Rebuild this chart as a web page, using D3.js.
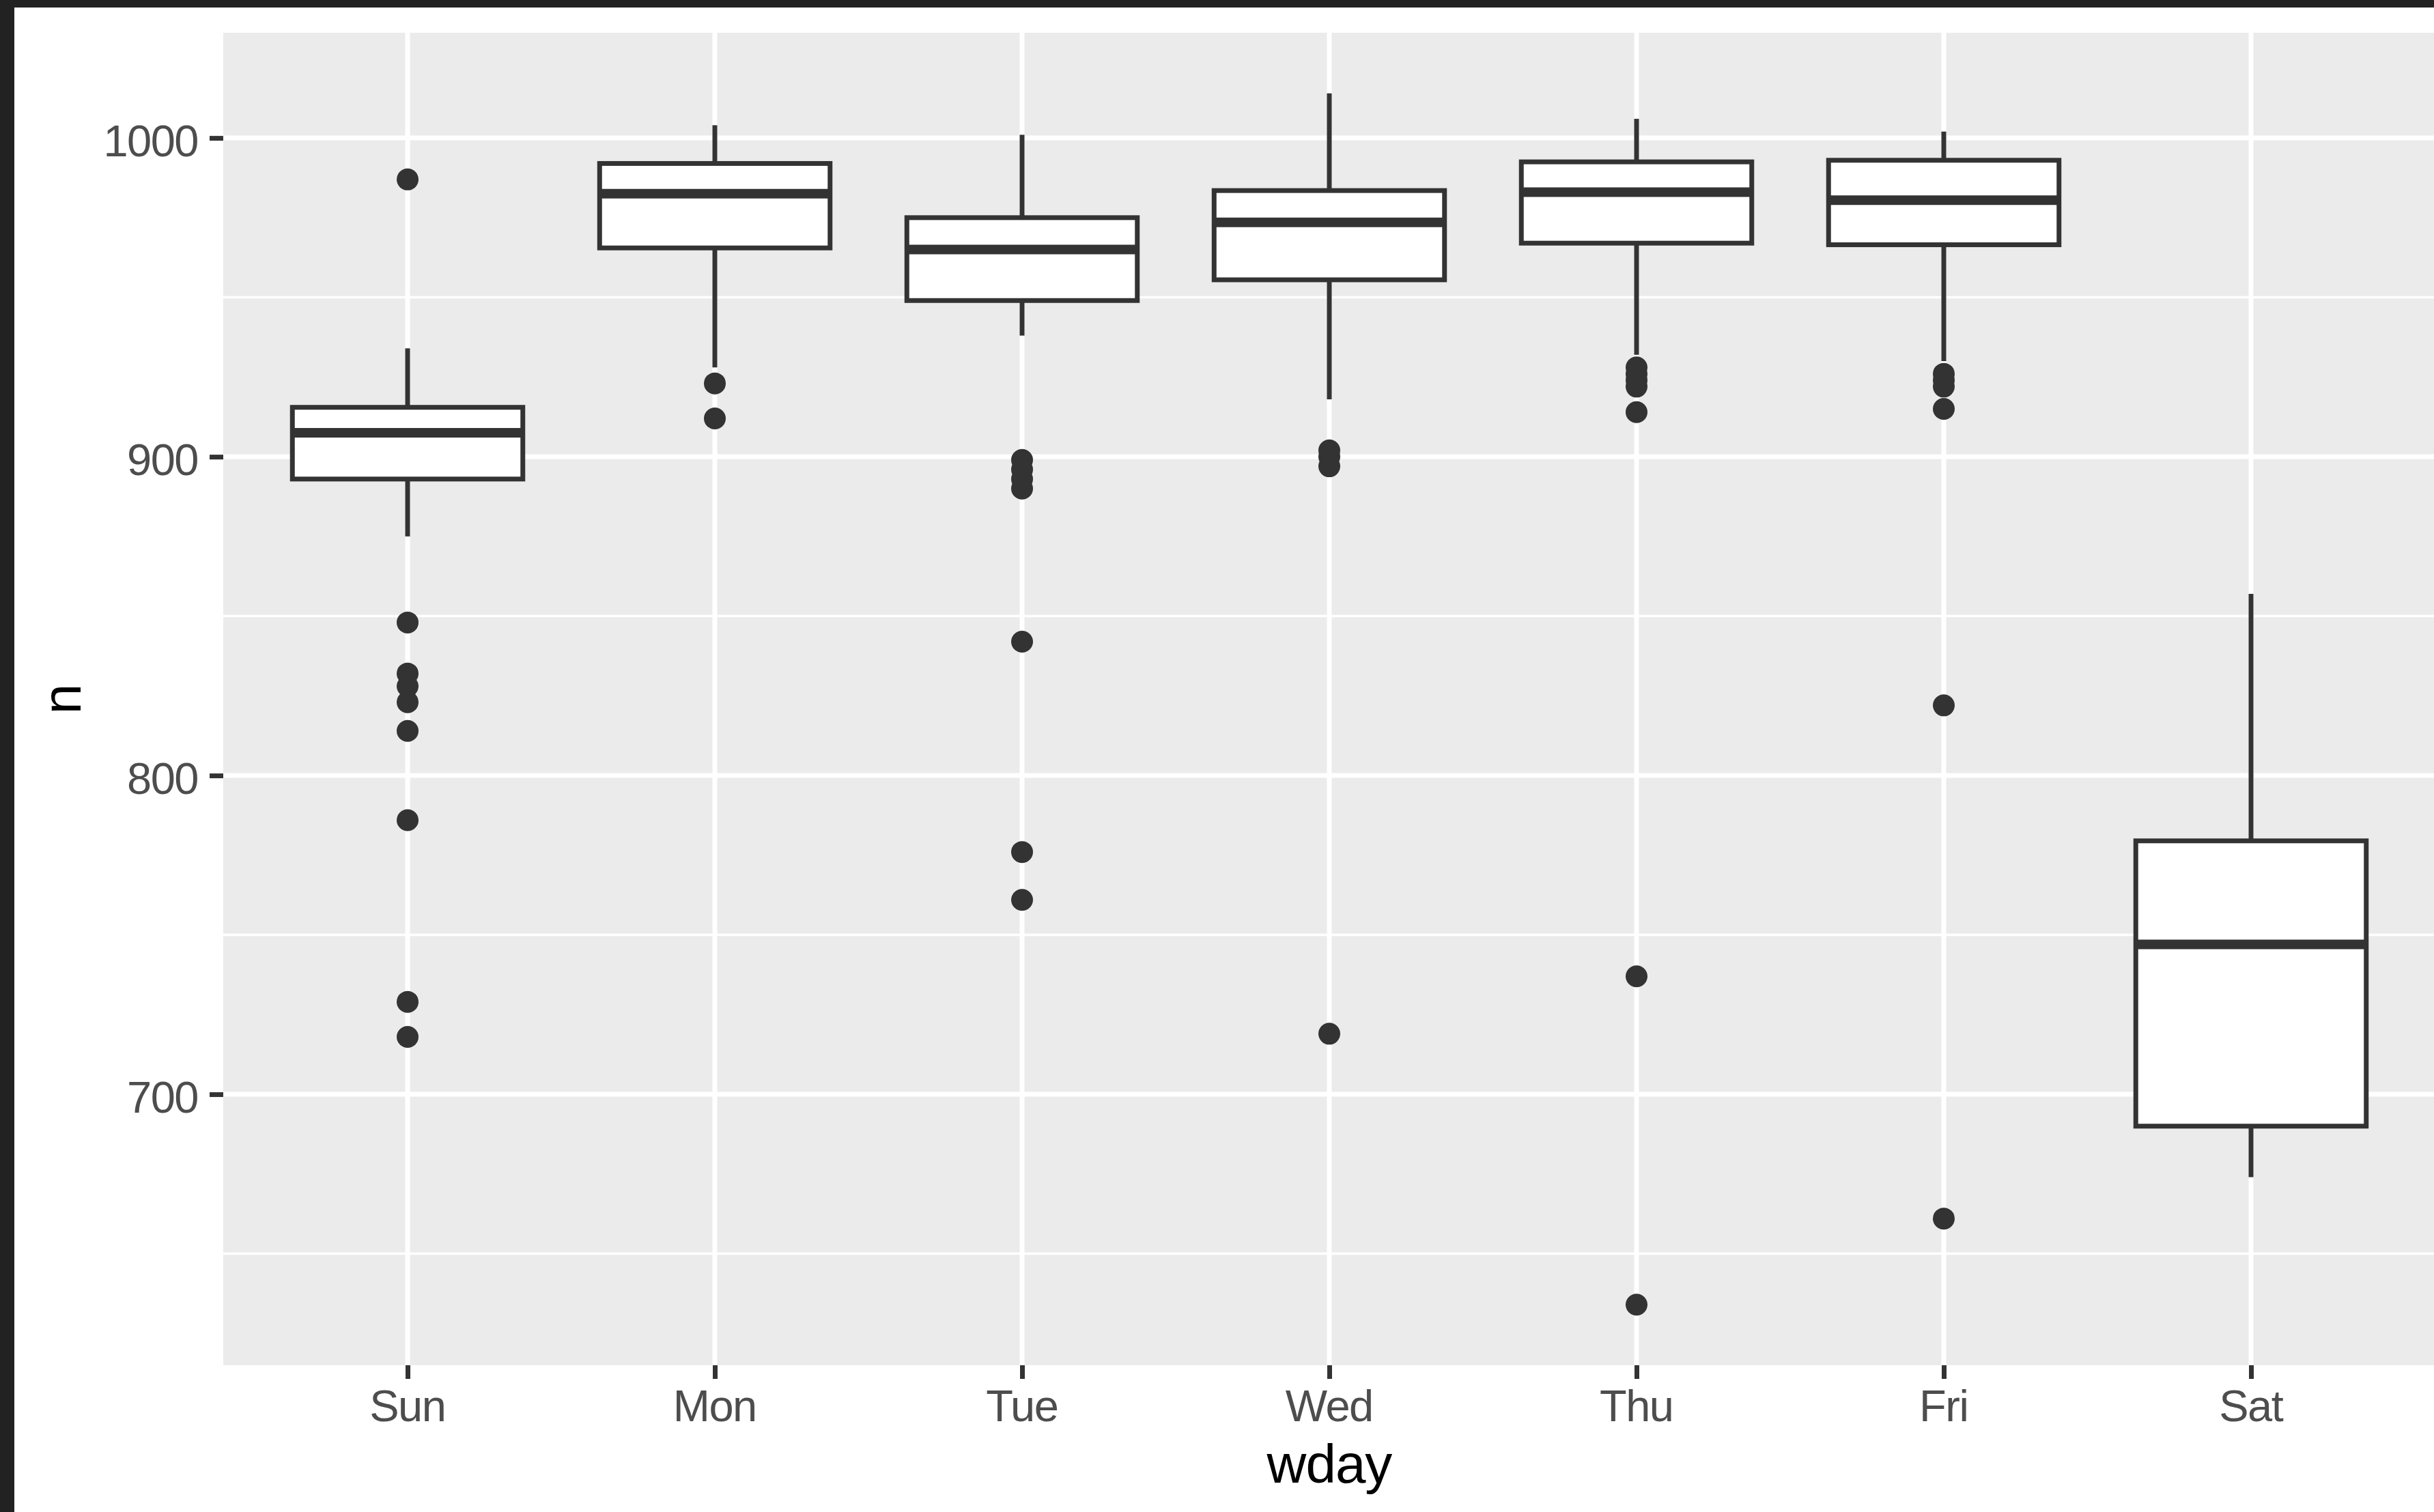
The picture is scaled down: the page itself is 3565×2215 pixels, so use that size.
<!DOCTYPE html>
<html>
<head>
<meta charset="utf-8">
<script src="https://cdn.jsdelivr.net/npm/d3@7"></script>
<style>
  html, body { margin: 0; padding: 0; background: #222222; }
  svg { display: block; }
  text { font-family: "Liberation Sans", Arial, Helvetica, sans-serif; }
</style>
</head>
<body>
<svg id="chart"></svg>
<script>
// Daily counts by weekday: box-plot summaries and outliers
const days = ["Sun", "Mon", "Tue", "Wed", "Thu", "Fri", "Sat"];
const whiskerLow  = [875,   928,   938, 918,   932,   930,   674];
const q1          = [893,   965.5, 949, 955.5, 967,   966.5, 690];
const median      = [907.5, 982.5, 965, 973.5, 983,   980.5, 747];
const q3          = [915.5, 992,   975, 983.5, 992.5, 993,   779.5];
const whiskerHigh = [934,   1004,  1001, 1014, 1006,  1002,  857];
const outliers = [
  [987, 848, 832, 828, 823, 814, 786, 729, 718],
  [923, 912],
  [899, 896, 893, 890, 842, 776, 761],
  [902, 900, 897, 719],
  [928, 926, 924, 922, 914, 737, 634],
  [926, 924, 922, 915, 822, 661],
  []
];
const yMajorTicks = [700, 800, 900, 1000];
const yMinorTicks = [650, 750, 850, 950];
const xTitle = "wday";
const yTitle = "n";

const W = 3565, H = 2215;
const panel = { left: 327, top: 48, right: 3567, bottom: 2000 };
const ink = "#333333";
const lineW = 7;

const svg = d3.select("#chart").attr("width", W).attr("height", H);

// window frame and white plot background
svg.append("rect").attr("x", 0).attr("y", 0).attr("width", W).attr("height", H).attr("fill", "#222222");
svg.append("rect").attr("x", 21).attr("y", 11).attr("width", W - 21).attr("height", H - 11).attr("fill", "#ffffff");

// scales: 5% expansion on the continuous axis, 0.6 unit padding on the discrete one
const allVals = [].concat(whiskerLow, whiskerHigh, ...outliers);
const [lo, hi] = d3.extent(allVals);
const span = hi - lo;
const y = d3.scaleLinear().domain([lo - 0.05 * span, hi + 0.05 * span]).range([panel.bottom, panel.top]);
const x = d3.scalePoint().domain(days).range([panel.left, panel.right]).padding(0.6);
const boxW = x.step() * 0.75;

// panel
svg.append("rect")
  .attr("x", panel.left).attr("y", panel.top)
  .attr("width", panel.right - panel.left).attr("height", panel.bottom - panel.top)
  .attr("fill", "#EBEBEB");

const grid = svg.append("g");
grid.selectAll("line.minor").data(yMinorTicks).join("line")
  .attr("class", "minor")
  .attr("x1", panel.left).attr("x2", panel.right)
  .attr("y1", d => y(d)).attr("y2", d => y(d))
  .attr("stroke", "#ffffff").attr("stroke-width", lineW / 2);
grid.selectAll("line.majory").data(yMajorTicks).join("line")
  .attr("class", "majory")
  .attr("x1", panel.left).attr("x2", panel.right)
  .attr("y1", d => y(d)).attr("y2", d => y(d))
  .attr("stroke", "#ffffff").attr("stroke-width", lineW);
grid.selectAll("line.majorx").data(days).join("line")
  .attr("class", "majorx")
  .attr("x1", d => x(d)).attr("x2", d => x(d))
  .attr("y1", panel.top).attr("y2", panel.bottom)
  .attr("stroke", "#ffffff").attr("stroke-width", lineW);

// boxes
const stats = days.map((d, i) => ({
  day: d, lo: whiskerLow[i], q1: q1[i], med: median[i], q3: q3[i], hi: whiskerHigh[i], out: outliers[i]
}));

const boxes = svg.append("g").selectAll("g").data(stats).join("g");

boxes.selectAll("circle").data(s => s.out.map(v => ({ day: s.day, v }))).join("circle")
  .attr("cx", d => x(d.day)).attr("cy", d => y(d.v)).attr("r", 16)
  .attr("fill", ink);

boxes.append("line")
  .attr("x1", s => x(s.day)).attr("x2", s => x(s.day))
  .attr("y1", s => y(s.hi)).attr("y2", s => y(s.q3))
  .attr("stroke", ink).attr("stroke-width", lineW);
boxes.append("line")
  .attr("x1", s => x(s.day)).attr("x2", s => x(s.day))
  .attr("y1", s => y(s.q1)).attr("y2", s => y(s.lo))
  .attr("stroke", ink).attr("stroke-width", lineW);
boxes.append("rect")
  .attr("x", s => x(s.day) - boxW / 2).attr("width", boxW)
  .attr("y", s => y(s.q3)).attr("height", s => y(s.q1) - y(s.q3))
  .attr("fill", "#ffffff").attr("stroke", ink).attr("stroke-width", lineW);
boxes.append("line")
  .attr("x1", s => x(s.day) - boxW / 2).attr("x2", s => x(s.day) + boxW / 2)
  .attr("y1", s => y(s.med)).attr("y2", s => y(s.med))
  .attr("stroke", ink).attr("stroke-width", lineW * 2);

// axes
const yAxis = svg.append("g")
  .attr("transform", `translate(${panel.left},0)`)
  .call(d3.axisLeft(y).tickValues(yMajorTicks).tickSize(20).tickPadding(17).tickFormat(d3.format("d")));
const xAxis = svg.append("g")
  .attr("transform", `translate(0,${panel.bottom})`)
  .call(d3.axisBottom(x).tickSize(20).tickPadding(16));

[yAxis, xAxis].forEach(a => {
  a.select(".domain").remove();
  a.selectAll(".tick line").attr("stroke", ink).attr("stroke-width", lineW);
  a.selectAll(".tick text")
    .attr("fill", "#4D4D4D")
    .style("font-size", "65px")
    .style("letter-spacing", "-1.5px")
    .style("font-family", "'Liberation Sans', Arial, Helvetica, sans-serif");
});
yAxis.selectAll(".tick text").attr("dy", "0.4em");
xAxis.selectAll(".tick text").attr("dx", "-0.75px");

// axis titles
svg.append("text")
  .attr("x", (panel.left + panel.right) / 2).attr("y", 2172)
  .attr("text-anchor", "middle")
  .attr("fill", "#000000")
  .style("font-size", "80px")
  .style("letter-spacing", "-1px")
  .text(xTitle);
svg.append("text")
  .attr("transform", `translate(118,${(panel.top + panel.bottom) / 2}) rotate(-90)`)
  .attr("text-anchor", "middle")
  .attr("fill", "#000000")
  .style("font-size", "80px")
  .text(yTitle);
</script>
</body>
</html>
